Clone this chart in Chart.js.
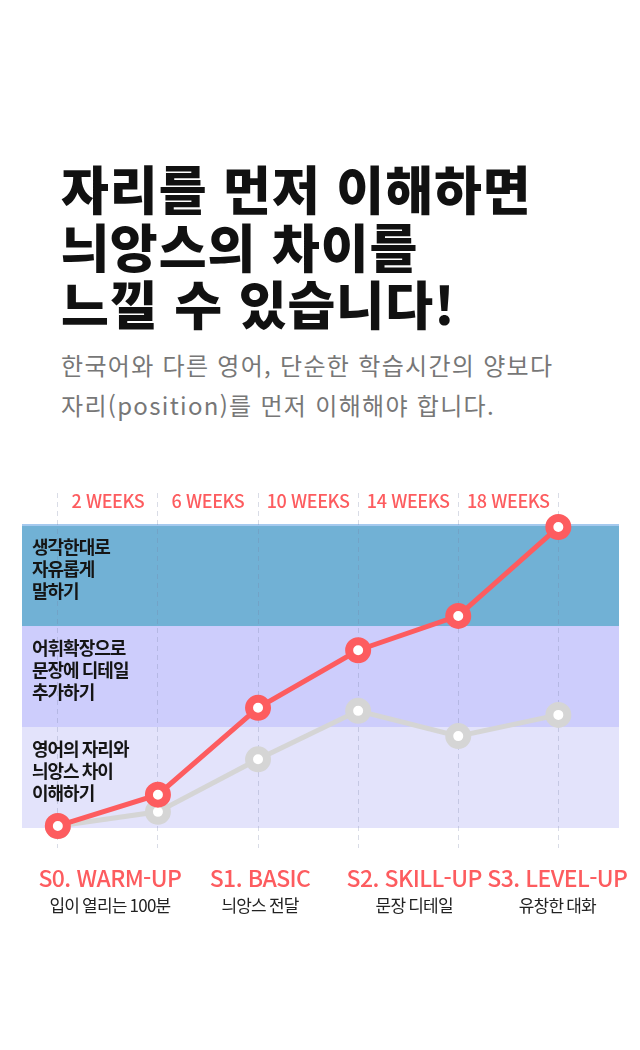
<!DOCTYPE html>
<html lang="ko">
<head>
<meta charset="utf-8">
<title>학습 단계 차트</title>
<script src="https://cdn.jsdelivr.net/npm/chart.js@4.4.1/dist/chart.umd.min.js"></script>
<style>
  html, body { margin: 0; padding: 0; background: #fff; }
  body { width: 640px; height: 1050px; position: relative; overflow: hidden;
         font-family: "Noto Sans CJK KR", "Noto Sans", sans-serif; }
  .title { position: absolute; left: 61px; top: 159px; margin: 0;
           font-size: 52px; line-height: 57.5px; font-weight: 900; color: #111;
           letter-spacing: 1px; }
  .sub { position: absolute; left: 61px; top: 345px; margin: 0;
         font-size: 24px; line-height: 40px; font-weight: 400; color: #777;
         letter-spacing: 1.3px; }
  .wrap { position: absolute; left: 0; top: 470px; width: 640px; height: 480px; }
</style>
</head>
<body>
<h1 class="title">자리를 먼저 이해하면<br>늬앙스의 차이를<br>느낄 수 있습니다!</h1>
<p class="sub">한국어와 다른 영어, 단순한 학습시간의 양보다<br>자리(position)를 먼저 이해해야 합니다.</p>
<div class="wrap"><canvas id="chart"></canvas></div>

<script>
// data
const weekLabels = ['2 WEEKS', '6 WEEKS', '10 WEEKS', '14 WEEKS', '18 WEEKS'];
const redValues = [0.02, 0.33, 1.19, 1.76, 2.10, 2.98];
const grayValues = [0.02, 0.16, 0.68, 1.16, 0.91, 1.12];
const bandLabels = [
  ['영어의 자리와', '늬앙스 차이', '이해하기'],
  ['어휘확장으로', '문장에 디테일', '추가하기'],
  ['생각한대로', '자유롭게', '말하기']
];
const stageNames = ['S0. WARM-UP', 'S1. BASIC', 'S2. SKILL-UP', 'S3. LEVEL-UP'];
const stageDescs = ['입이 열리는 100분', '늬앙스 전달', '문장 디테일', '유창한 대화'];

const RED = '#fd5c5f';
const GRAY = '#d5d5d5';
const FONT = '"Noto Sans CJK KR", "Noto Sans", sans-serif';
const bandColors = ['#e3e3fb', '#cdcdfc', '#71b1d5'];
const stageAt = [0.52, 2.02, 3.56, 4.99]; // x value where each stage caption sits

const bandsPlugin = {
  id: 'bands',
  beforeDraw(chart) {
    const { ctx, chartArea: a, scales: { y } } = chart;
    ctx.save();
    bandColors.forEach((c, i) => {
      const top = y.getPixelForValue(i + 1);
      const bot = y.getPixelForValue(i);
      ctx.fillStyle = c;
      ctx.fillRect(a.left, top, a.right - a.left, bot - top);
    });
    // thin light edge on top of the blue band
    ctx.fillStyle = '#a4c9ee';
    ctx.fillRect(a.left, y.getPixelForValue(3) - 1, a.right - a.left, 2);
    ctx.restore();
  },
  afterDraw(chart) {
    const { ctx, chartArea: a, scales: { x, y } } = chart;
    ctx.save();
    ctx.textBaseline = 'middle';

    // band captions
    ctx.fillStyle = '#151515';
    ctx.textAlign = 'left';
    ctx.font = 'bold 18px ' + FONT;
    ctx.letterSpacing = '-1px';
    bandLabels.forEach((lines, i) => {
      const top = y.getPixelForValue(i + 1);
      lines.forEach((t, j) => ctx.fillText(t, a.left + 10, top + 22 + j * 22));
    });

    // week labels between the grid lines
    ctx.fillStyle = RED;
    ctx.textAlign = 'center';
    ctx.font = '500 18px ' + FONT;
    ctx.letterSpacing = '-0.4px';
    weekLabels.forEach((t, i) => {
      ctx.fillText(t, x.getPixelForValue(i + 0.5), a.top + 8);
    });

    // stage captions under the chart
    stageNames.forEach((t, i) => {
      const cx = x.getPixelForValue(stageAt[i]);
      ctx.fillStyle = RED;
      ctx.font = '500 23px ' + FONT;
      ctx.letterSpacing = '-0.6px';
      ctx.fillText(t, cx, a.bottom + 30);
      ctx.fillStyle = '#222';
      ctx.font = '400 17px ' + FONT;
      ctx.letterSpacing = '-0.8px';
      ctx.fillText(stageDescs[i], cx, a.bottom + 58);
    });
    ctx.restore();
  }
};

const toPoints = vals => vals.map((v, i) => ({ x: i, y: v }));

new Chart(document.getElementById('chart').getContext('2d'), {
  type: 'line',
  data: {
    datasets: [
      {
        data: toPoints(redValues),
        borderColor: RED,
        borderWidth: 5,
        pointRadius: 9,
        pointBorderWidth: 8,
        pointBackgroundColor: '#fff',
        pointBorderColor: RED,
        tension: 0
      },
      {
        data: toPoints(grayValues),
        borderColor: GRAY,
        borderWidth: 5,
        pointRadius: 9,
        pointBorderWidth: 8,
        pointBackgroundColor: '#fff',
        pointBorderColor: GRAY,
        tension: 0
      }
    ]
  },
  options: {
    responsive: true,
    maintainAspectRatio: false,
    animation: false,
    layout: { padding: { left: 22, right: 21, top: 23, bottom: 102 } },
    plugins: { legend: { display: false }, tooltip: { enabled: false } },
    scales: {
      x: {
        type: 'linear',
        min: -0.358,
        max: 5.606,
        afterBuildTicks: axis => { axis.ticks = redValues.map((_, i) => ({ value: i })); },
        ticks: { display: false },
        grid: { color: 'rgba(120,130,165,0.28)', drawTicks: false, lineWidth: 1 },
        border: { display: false, dash: [5, 4] }
      },
      y: {
        display: false,
        min: -0.198,
        max: 3.317
      }
    }
  },
  plugins: [bandsPlugin]
});
</script>
</body>
</html>
